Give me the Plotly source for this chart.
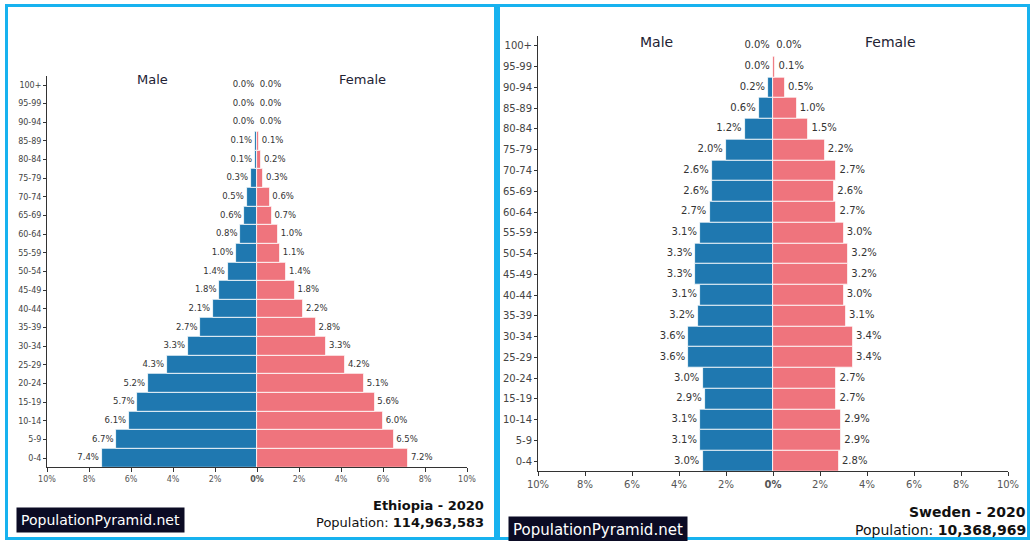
import plotly.graph_objects as go

W, H = 1031, 541

ages = ["0-4", "5-9", "10-14", "15-19", "20-24", "25-29", "30-34", "35-39", "40-44",
        "45-49", "50-54", "55-59", "60-64", "65-69", "70-74", "75-79", "80-84",
        "85-89", "90-94", "95-99", "100+"]

eth_male = [7.4, 6.7, 6.1, 5.7, 5.2, 4.3, 3.3, 2.7, 2.1, 1.8, 1.4, 1.0, 0.8, 0.6, 0.5, 0.3, 0.1, 0.1, 0.0, 0.0, 0.0]
eth_female = [7.2, 6.5, 6.0, 5.6, 5.1, 4.2, 3.3, 2.8, 2.2, 1.8, 1.4, 1.1, 1.0, 0.7, 0.6, 0.3, 0.2, 0.1, 0.0, 0.0, 0.0]

swe_male = [3.0, 3.1, 3.1, 2.9, 3.0, 3.6, 3.6, 3.2, 3.1, 3.3, 3.3, 3.1, 2.7, 2.6, 2.6, 2.0, 1.2, 0.6, 0.2, 0.0, 0.0]
swe_female = [2.8, 2.9, 2.9, 2.7, 2.7, 3.4, 3.4, 3.1, 3.0, 3.2, 3.2, 3.0, 2.7, 2.6, 2.7, 2.2, 1.5, 1.0, 0.5, 0.1, 0.0]

tick_vals = [-10, -8, -6, -4, -2, 0, 2, 4, 6, 8, 10]
tick_text = ["10%", "8%", "6%", "4%", "2%", "<b>0%</b>", "2%", "4%", "6%", "8%", "10%"]

BLUE = "#1f78b0"
PINK = "#ef747d"
FRAME = "#17b2ef"
FONT = "DejaVu Sans"


def px_x(p):
    return p / W


def px_y(p):
    return 1 - p / H


fig = go.Figure()

panels = [
    dict(male=eth_male, female=eth_female, xa="x", ya="y", fs=8.5, tfs=8,
         xdom=[px_x(47), px_x(467)], ydom=[px_y(467.4), px_y(75.7)]),
    dict(male=swe_male, female=swe_female, xa="x2", ya="y2", fs=10, tfs=10,
         xdom=[px_x(538), px_x(1008)], ydom=[px_y(471.4), px_y(35.6)]),
]

for p in panels:
    fig.add_trace(go.Bar(
        y=ages, x=[-v for v in p["male"]], orientation="h",
        marker=dict(color=BLUE, line=dict(color="white", width=0.8)),
        xaxis=p["xa"], yaxis=p["ya"], showlegend=False, hoverinfo="skip"))
    fig.add_trace(go.Bar(
        y=ages, x=p["female"], orientation="h",
        marker=dict(color=PINK, line=dict(color="white", width=0.8)),
        xaxis=p["xa"], yaxis=p["ya"], showlegend=False, hoverinfo="skip"))
    fig.add_trace(go.Scatter(
        y=ages, x=[-v for v in p["male"]], mode="text",
        text=[f"{v:.1f}% " for v in p["male"]], textposition="middle left",
        textfont=dict(size=p["fs"], color="#333333", family=FONT), cliponaxis=False,
        xaxis=p["xa"], yaxis=p["ya"], showlegend=False, hoverinfo="skip"))
    fig.add_trace(go.Scatter(
        y=ages, x=p["female"], mode="text",
        text=[f" {v:.1f}%" for v in p["female"]], textposition="middle right",
        textfont=dict(size=p["fs"], color="#333333", family=FONT), cliponaxis=False,
        xaxis=p["xa"], yaxis=p["ya"], showlegend=False, hoverinfo="skip"))

for i, p in enumerate(panels):
    sfx = "" if i == 0 else "2"
    fig.update_layout(**{
        f"xaxis{sfx}": dict(domain=p["xdom"], range=[-10, 10], tickvals=tick_vals, ticktext=tick_text,
                            showgrid=False, zeroline=False, showline=True, linecolor="#333333",
                            linewidth=1, ticks="outside", ticklen=4, tickcolor="#333333",
                            tickfont=dict(size=p["tfs"], color="#555555", family=FONT),
                            anchor="y" + sfx, fixedrange=True, automargin=False),
        f"yaxis{sfx}": dict(domain=p["ydom"], categoryorder="array", categoryarray=ages,
                            range=[-0.5, 20.5], showgrid=False, zeroline=False, showline=True,
                            linecolor="#333333", linewidth=1, ticks="outside", ticklen=3,
                            tickcolor="#333333",
                            tickfont=dict(size=p["tfs"], color="#444444", family=FONT),
                            anchor="x" + sfx, fixedrange=True, automargin=False),
    })

annotations = [
    dict(text="Male", x=px_x(152), y=px_y(80), size=13),
    dict(text="Female", x=px_x(362), y=px_y(80), size=13),
    dict(text="Male", x=px_x(656), y=px_y(42), size=14),
    dict(text="Female", x=px_x(890), y=px_y(42), size=14),
]
ann = []
for a in annotations:
    ann.append(dict(text=a["text"], x=a["x"], y=a["y"], xanchor="center", yanchor="middle",
                    font=dict(size=a["size"], color="#222233", family=FONT)))

# footer texts
ann += [
    dict(text="<b>Ethiopia - 2020</b>", x=px_x(486), y=px_y(505), xanchor="right", yanchor="middle",
         font=dict(size=13, color="#111111", family=FONT)),
    dict(text="Population: <b>114,963,583</b>", x=px_x(486), y=px_y(522), xanchor="right", yanchor="middle",
         font=dict(size=13, color="#111111", family=FONT)),
    dict(text="<b>Sweden - 2020</b>", x=px_x(1028), y=px_y(512), xanchor="right", yanchor="middle",
         font=dict(size=14, color="#111111", family=FONT)),
    dict(text="Population: <b>10,368,969</b>", x=px_x(1028), y=px_y(530), xanchor="right", yanchor="middle",
         font=dict(size=14, color="#111111", family=FONT)),
    dict(text="PopulationPyramid.net", x=px_x(100), y=px_y(519.5), xanchor="center", yanchor="middle",
         font=dict(size=14, color="white", family=FONT), bgcolor="#0b0b24", borderpad=4),
    dict(text="PopulationPyramid.net", x=px_x(597.5), y=px_y(530), xanchor="center", yanchor="middle",
         font=dict(size=15, color="white", family=FONT), bgcolor="#0b0b24", borderpad=4),
]
for a in ann:
    a["xref"] = "paper"
    a["yref"] = "paper"
    a["showarrow"] = False

shapes = [
    dict(type="rect", xref="paper", yref="paper", x0=px_x(6.5), x1=px_x(495.5), y0=px_y(538.5), y1=px_y(5.5),
         line=dict(color=FRAME, width=3), fillcolor="rgba(0,0,0,0)", layer="above"),
    dict(type="rect", xref="paper", yref="paper", x0=px_x(498.5), x1=px_x(1028.5), y0=px_y(538.5), y1=px_y(5.5),
         line=dict(color=FRAME, width=3), fillcolor="rgba(0,0,0,0)", layer="above"),
]

fig.update_layout(
    width=W, height=H, margin=dict(l=0, r=0, t=0, b=0, autoexpand=False),
    paper_bgcolor="white", plot_bgcolor="white",
    barmode="relative", bargap=0.0,
    annotations=ann, shapes=shapes,
    font=dict(family=FONT),
)

fig.write_html("out.html", config={"displayModeBar": False},
               post_script="document.body.style.margin='0px';")
